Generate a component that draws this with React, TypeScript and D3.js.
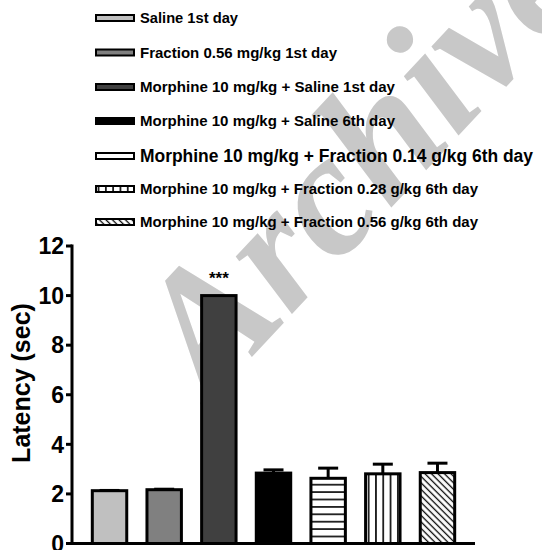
import React from "react";
import * as d3 from "d3";

const categories = [
  "Saline 1st day",
  "Fraction 0.56 mg/kg 1st day",
  "Morphine 10 mg/kg + Saline 1st day",
  "Morphine 10 mg/kg + Saline 6th day",
  "Morphine 10 mg/kg + Fraction 0.14 g/kg 6th day",
  "Morphine 10 mg/kg + Fraction 0.28 g/kg 6th day",
  "Morphine 10 mg/kg + Fraction 0.56 g/kg 6th day",
];
const means = [2.13, 2.17, 10, 2.84, 2.63, 2.81, 2.86];
const sems = [0.04, 0.05, 0, 0.13, 0.41, 0.39, 0.38];
const yTicks = [0, 2, 4, 6, 8, 10, 12];
const significance = ["", "", "***", "", "", "", ""];
const fills = ["#c0c0c0", "#808080", "#404040", "#000000", "url(#hlines)", "url(#vlines)", "url(#dlines)"];
const legendFills = ["#c0c0c0", "#808080", "#404040", "#000000", "#ffffff", "url(#vlines)", "url(#dlines)"];

const W = 542;
const H = 550;
const FONT = "'Liberation Sans', Arial, Helvetica, sans-serif";

export default function App() {
  const x = d3
    .scaleBand<string>()
    .domain(categories)
    .range([82.2, 464.8])
    .paddingInner(0.37)
    .paddingOuter(0.185);
  const y = d3.scaleLinear().domain([0, 12]).range([543.5, 246]);

  const legendY = [18, 52.5, 87, 121, 156, 189, 222];
  const legendSize = [15, 15, 15, 15, 17.5, 15, 15];
  const legendLen = [98, 197, 255, 255, 393, 338, 338];

  return (
    <svg
      width={W}
      height={H}
      style={{ position: "fixed", left: 0, top: 0, display: "block", background: "#fff" }}
      fontFamily={FONT}
    >
      <defs>
        <pattern id="hlines" patternUnits="userSpaceOnUse" width={8} height={7.4}>
          <rect width={8} height={7.4} fill="#fff" />
          <line x1={0} x2={8} y1={3.7} y2={3.7} stroke="#000" strokeWidth={1.6} />
        </pattern>
        <pattern id="vlines" patternUnits="userSpaceOnUse" width={7.3} height={8}>
          <rect width={7.3} height={8} fill="#fff" />
          <line x1={3.65} x2={3.65} y1={0} y2={8} stroke="#000" strokeWidth={1.6} />
        </pattern>
        <pattern
          id="dlines"
          patternUnits="userSpaceOnUse"
          width={8}
          height={4.6}
          patternTransform="rotate(45)"
        >
          <rect width={8} height={4.6} fill="#fff" />
          <line x1={0} x2={8} y1={2.3} y2={2.3} stroke="#000" strokeWidth={1.3} />
        </pattern>
      </defs>
      <rect width={W} height={H} fill="#fff" />

      {/* watermark */}
      <text
        x={210}
        y={402}
        transform="rotate(-47 210 402)"
        fontFamily="'Liberation Serif', 'Times New Roman', serif"
        fontWeight="bold"
        fontStyle="italic"
        fontSize={175}
        fill="#c8c8c8"
      >
        Archive
      </text>

      {/* legend */}
      {categories.map((c, i) => (
        <g key={c}>
          <rect
            x={96}
            y={legendY[i] - 3}
            width={38}
            height={6}
            fill={legendFills[i]}
            stroke="#000"
            strokeWidth={2}
          />
          <text
            x={140}
            y={legendY[i] + legendSize[i] * 0.36}
            fontSize={legendSize[i]}
            fontWeight="bold"
            textLength={legendLen[i]}
            lengthAdjust="spacingAndGlyphs"
          >
            {c}
          </text>
        </g>
      ))}

      {/* bars */}
      {categories.map((c, i) => {
        const bx = x(c)!;
        const bw = x.bandwidth();
        const cx = bx + bw / 2;
        return (
          <g key={"b" + i}>
            {sems[i] > 0 && (
              <g stroke="#000" strokeWidth={i < 2 ? 1.5 : 3}>
                <line x1={cx} x2={cx} y1={y(means[i])} y2={y(means[i] + sems[i])} />
                <line x1={cx - 10} x2={cx + 10} y1={y(means[i] + sems[i])} y2={y(means[i] + sems[i])} />
              </g>
            )}
            <rect
              x={bx}
              y={y(means[i])}
              width={bw}
              height={y(0) - y(means[i])}
              fill={fills[i]}
              stroke="#000"
              strokeWidth={3}
            />
            {significance[i] && (
              <text
                x={cx}
                y={y(means[i]) - 12}
                textAnchor="middle"
                fontSize={17}
                fontWeight="bold"
              >
                {significance[i]}
              </text>
            )}
          </g>
        );
      })}

      {/* axes */}
      <line x1={72} x2={72} y1={y(12) - 1.5} y2={y(0) + 1.5} stroke="#000" strokeWidth={3} />
      <line x1={70.5} x2={475} y1={y(0)} y2={y(0)} stroke="#000" strokeWidth={3} />
      {yTicks.map((t) => (
        <g key={t}>
          <line x1={66} x2={72} y1={y(t)} y2={y(t)} stroke="#000" strokeWidth={3} />
          <text
            x={64}
            y={y(t)}
            dy="0.36em"
            textAnchor="end"
            fontSize={23}
            fontWeight="bold"
          >
            {t}
          </text>
        </g>
      ))}
      <text
        transform="translate(30,383) rotate(-90)"
        textAnchor="middle"
        fontSize={25}
        fontWeight="bold"
      >
        Latency (sec)
      </text>
    </svg>
  );
}
